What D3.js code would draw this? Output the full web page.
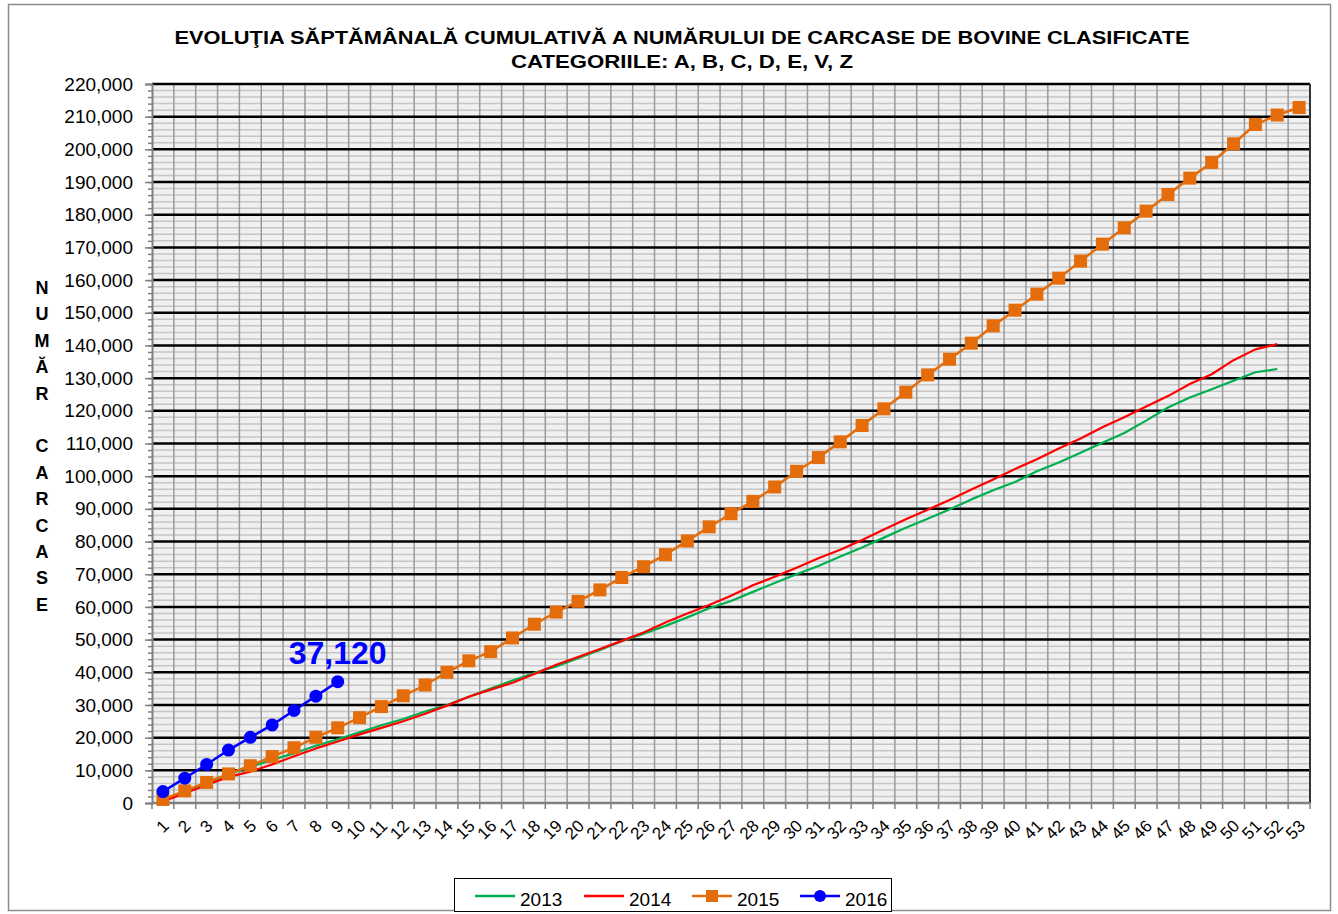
<!DOCTYPE html>
<html>
<head>
<meta charset="utf-8">
<script src="https://cdn.jsdelivr.net/npm/d3@7"></script>
<style>
  body { margin: 0; background: #fff; }
  svg { font-family: "Liberation Sans", Arial, sans-serif; }
</style>
</head>
<body>
<svg id="chart"></svg>
<script>
// weekly cumulative counts
const weeks = d3.range(1, 54);

const values2013 = [800, 3500, 6000, 8800, 11000, 13200, 15200, 17500, 19500, 21600,
  23800, 25700, 28000, 30000, 32500, 35000, 37500, 39800, 41800, 44300,
  46800, 49500, 51800, 54200, 56800, 59600, 61800, 64600, 67300, 70000,
  72500, 75400, 78200, 81200, 84200, 87000, 89800, 92900, 95700, 98200,
  101500, 104200, 107200, 110200, 113200, 117000, 121000, 124100, 126600, 129200,
  131800, 132800];

const values2014 = [500, 3000, 5500, 8000, 9600, 11800, 14300, 16700, 18800, 21000,
  23000, 25000, 27300, 29800, 32500, 34700, 36800, 39500, 42300, 44700,
  47100, 49600, 52200, 55200, 58000, 60600, 63400, 66600, 69200, 72000,
  74900, 77500, 80500, 83700, 86800, 89700, 92700, 95900, 99000, 102200,
  105200, 108500, 111500, 115000, 118000, 121300, 124500, 128200, 131200, 135500,
  138800, 140400];

const values2015 = [1100, 3700, 6300, 8900, 11400, 14200, 16900, 20100, 23000, 26100,
  29500, 32800, 36100, 40000, 43500, 46300, 50500, 54700, 58400, 61700,
  65200, 69000, 72300, 76000, 80200, 84500, 88500, 92300, 96700, 101500,
  105700, 110500, 115500, 120600, 125700, 131000, 135800, 140700, 146000, 150800,
  155700, 160600, 165800, 171000, 176000, 181100, 186200, 191200, 196000, 201700,
  207600, 210500, 212800];

const values2016 = [3500, 7600, 11800, 16200, 20100, 23900, 28300, 32700, 37120];

const seriesNames = ["2013", "2014", "2015", "2016"];
const seriesColors = ["#00b050", "#ff0000", "#e46c0a", "#0000ff"];

const yTicks = d3.range(0, 220001, 10000);
const yMinorTicks = d3.range(0, 220001, 2000);

const titleLines = [
  "EVOLUŢIA SĂPTĂMÂNALĂ  CUMULATIVĂ A NUMĂRULUI DE CARCASE DE BOVINE  CLASIFICATE",
  "CATEGORIILE: A, B, C, D, E, V, Z",
];
const yTitleLetters = ["N", "U", "M", "Ă", "R", "", "C", "A", "R", "C", "A", "S", "E"];
const lastLabel = "37,120";

class CumulativeChart {
  constructor(_config) {
    this.config = {
      parentElement: _config.parentElement,
      containerWidth: _config.containerWidth || 1338,
      containerHeight: _config.containerHeight || 914,
      margin: _config.margin || { top: 84, right: 28, bottom: 111, left: 152 },
    };
    this.initVis();
  }

  initVis() {
    let vis = this;

    vis.width =
      vis.config.containerWidth - vis.config.margin.left - vis.config.margin.right;
    vis.height =
      vis.config.containerHeight - vis.config.margin.top - vis.config.margin.bottom;

    vis.svg = d3
      .select(vis.config.parentElement)
      .attr("width", vis.config.containerWidth)
      .attr("height", vis.config.containerHeight);

    // outer chart frame
    vis.svg
      .append("rect")
      .attr("x", 8.5)
      .attr("y", 4.5)
      .attr("width", vis.config.containerWidth - 16)
      .attr("height", vis.config.containerHeight - 8)
      .attr("fill", "#fff")
      .attr("stroke", "#8c8c8c")
      .attr("stroke-width", 1.5);

    vis.chart = vis.svg
      .append("g")
      .attr("transform", `translate(${vis.config.margin.left},${vis.config.margin.top})`);

    vis.xScale = d3
      .scaleBand()
      .domain(weeks)
      .range([0, vis.width])
      .paddingInner(0)
      .paddingOuter(0);

    vis.yScale = d3.scaleLinear().domain([0, 220000]).range([vis.height, 0]);

    vis.xCenter = (d) => vis.xScale(d) + vis.xScale.bandwidth() / 2;

    // plot background
    vis.chart
      .append("rect")
      .attr("width", vis.width)
      .attr("height", vis.height)
      .attr("fill", "#f0f0f0");

    // minor horizontal grid
    vis.chart
      .append("g")
      .attr("class", "minor-grid")
      .selectAll("line")
      .data(yMinorTicks.filter((d) => d % 10000 !== 0))
      .join("line")
      .attr("x1", 0)
      .attr("x2", vis.width)
      .attr("y1", (d) => vis.yScale(d))
      .attr("y2", (d) => vis.yScale(d))
      .attr("stroke", "#c6c6c6")
      .attr("stroke-width", 1.5);

    // vertical grid at category boundaries
    vis.chart
      .append("g")
      .attr("class", "v-grid")
      .selectAll("line")
      .data(weeks.slice(1))
      .join("line")
      .attr("x1", (d) => vis.xScale(d))
      .attr("x2", (d) => vis.xScale(d))
      .attr("y1", 0)
      .attr("y2", vis.height)
      .attr("stroke", "#9a9a9a")
      .attr("stroke-width", 1.5);

    // major horizontal grid
    vis.chart
      .append("g")
      .attr("class", "major-grid")
      .selectAll("line")
      .data(yTicks.filter((d) => d > 0))
      .join("line")
      .attr("x1", 0)
      .attr("x2", vis.width)
      .attr("y1", (d) => vis.yScale(d))
      .attr("y2", (d) => vis.yScale(d))
      .attr("stroke", "#000")
      .attr("stroke-width", 2.5);

    // right border of plot
    vis.chart
      .append("line")
      .attr("x1", vis.width)
      .attr("x2", vis.width)
      .attr("y1", 0)
      .attr("y2", vis.height)
      .attr("stroke", "#333")
      .attr("stroke-width", 2);

    // Y axis (minor ticks, then major ticks + labels)
    vis.chart
      .append("g")
      .call(d3.axisLeft(vis.yScale).tickValues(yMinorTicks).tickSize(4).tickFormat(""))
      .call((g) => g.select(".domain").remove())
      .selectAll("line")
      .attr("stroke", "#808080")
      .attr("stroke-width", 1.5);

    vis.yAxisGroup = vis.chart
      .append("g")
      .attr("class", "y-axis")
      .call(
        d3
          .axisLeft(vis.yScale)
          .tickValues(yTicks)
          .tickSize(7)
          .tickPadding(12)
          .tickFormat((d) => (d === 0 ? "0" : d3.format(",")(d)))
      );
    vis.yAxisGroup.select(".domain").attr("stroke", "#808080").attr("stroke-width", 2);
    vis.yAxisGroup.selectAll(".tick line").attr("stroke", "#808080").attr("stroke-width", 1.5);
    vis.yAxisGroup
      .selectAll(".tick text")
      .attr("fill", "#000")
      .style("font-size", "19px");

    // X axis: ticks at boundaries, labels at centres
    vis.chart
      .append("g")
      .attr("transform", `translate(0,${vis.height})`)
      .selectAll("line")
      .data(weeks.concat([54]))
      .join("line")
      .attr("x1", (d) => (d === 54 ? vis.width : vis.xScale(d)))
      .attr("x2", (d) => (d === 54 ? vis.width : vis.xScale(d)))
      .attr("y1", 0)
      .attr("y2", 6)
      .attr("stroke", "#808080")
      .attr("stroke-width", 1.5);

    vis.chart
      .append("line")
      .attr("x1", 0)
      .attr("x2", vis.width)
      .attr("y1", vis.height)
      .attr("y2", vis.height)
      .attr("stroke", "#808080")
      .attr("stroke-width", 2.5);

    vis.chart
      .append("g")
      .attr("class", "x-labels")
      .selectAll("text")
      .data(weeks)
      .join("text")
      .attr(
        "transform",
        (d) => `translate(${vis.xCenter(d) - 2},${vis.height + 15}) rotate(-45)`
      )
      .attr("text-anchor", "end")
      .attr("dy", "0.75em")
      .style("font-size", "17px")
      .text((d) => d);

    // title
    vis.svg
      .append("g")
      .attr("class", "title")
      .selectAll("text")
      .data(titleLines)
      .join("text")
      .attr("x", 682)
      .attr("y", (d, i) => 44 + i * 24)
      .attr("text-anchor", "middle")
      .attr("font-weight", "bold")
      .style("font-size", "19px")
      .attr("textLength", (d, i) => (i === 0 ? 1015 : 342))
      .attr("lengthAdjust", "spacingAndGlyphs")
      .text((d) => d);

    // vertical axis title, one letter per line
    vis.svg
      .append("g")
      .attr("class", "y-title")
      .selectAll("text")
      .data(yTitleLetters)
      .join("text")
      .attr("x", 42)
      .attr("y", (d, i) => 294 + i * 26.4)
      .attr("text-anchor", "middle")
      .attr("font-weight", "bold")
      .style("font-size", "18px")
      .text((d) => d);

    vis.updateVis();
  }

  updateVis() {
    let vis = this;

    const allValues = [values2013, values2014, values2015, values2016];
    vis.series = seriesNames.map((name, i) => ({
      name,
      color: seriesColors[i],
      values: allValues[i].map((v, j) => ({ week: weeks[j], value: v })),
    }));

    vis.line = d3
      .line()
      .x((d) => vis.xCenter(d.week))
      .y((d) => vis.yScale(d.value));

    vis.chart
      .selectAll(".line-path")
      .data(vis.series)
      .join("path")
      .attr("class", "line-path")
      .attr("fill", "none")
      .attr("stroke", (d) => d.color)
      .attr("stroke-width", (d) => (d.name === "2015" || d.name === "2016" ? 2.5 : 2.2))
      .attr("stroke-linejoin", "round")
      .attr("d", (d) => vis.line(d.values));

    // 2015 square markers
    vis.chart
      .selectAll(".square")
      .data(vis.series[2].values)
      .join("rect")
      .attr("class", "square")
      .attr("x", (d) => vis.xCenter(d.week) - 6.5)
      .attr("y", (d) => vis.yScale(d.value) - 6.5)
      .attr("width", 13)
      .attr("height", 13)
      .attr("fill", seriesColors[2]);

    // 2016 circle markers
    vis.chart
      .selectAll(".dot")
      .data(vis.series[3].values)
      .join("circle")
      .attr("class", "dot")
      .attr("cx", (d) => vis.xCenter(d.week))
      .attr("cy", (d) => vis.yScale(d.value))
      .attr("r", 6.5)
      .attr("fill", seriesColors[3]);

    // label for the latest 2016 value
    const last = vis.series[3].values[vis.series[3].values.length - 1];
    vis.chart
      .append("text")
      .attr("x", vis.xCenter(last.week))
      .attr("y", vis.yScale(last.value) - 18)
      .attr("text-anchor", "middle")
      .attr("font-weight", "bold")
      .attr("fill", "#0000ff")
      .style("font-size", "32px")
      .text(lastLabel);

    // legend
    vis.legend = vis.svg.append("g").attr("class", "legend");

    vis.legend
      .append("rect")
      .attr("x", 454.5)
      .attr("y", 878.5)
      .attr("width", 437)
      .attr("height", 33)
      .attr("fill", "#fff")
      .attr("stroke", "#000")
      .attr("stroke-width", 1);

    const legendX = [475, 584, 692, 800];

    vis.legendItems = vis.legend
      .selectAll(".legend-item")
      .data(vis.series)
      .join("g")
      .attr("class", "legend-item")
      .attr("transform", (d, i) => `translate(${legendX[i]}, 896)`);

    vis.legendItems
      .append("line")
      .attr("x1", 0)
      .attr("x2", 40)
      .attr("stroke", (d) => d.color)
      .attr("stroke-width", 2.5);

    vis.legendItems
      .filter((d) => d.name === "2015")
      .append("rect")
      .attr("x", 14)
      .attr("y", -6)
      .attr("width", 12)
      .attr("height", 12)
      .attr("fill", (d) => d.color);

    vis.legendItems
      .filter((d) => d.name === "2016")
      .append("circle")
      .attr("cx", 20)
      .attr("r", 6)
      .attr("fill", (d) => d.color);

    vis.legendItems
      .append("text")
      .attr("x", 45)
      .attr("y", 10)
      .style("font-size", "19px")
      .text((d) => d.name);
  }
}

new CumulativeChart({ parentElement: "#chart" });
</script>
</body>
</html>
